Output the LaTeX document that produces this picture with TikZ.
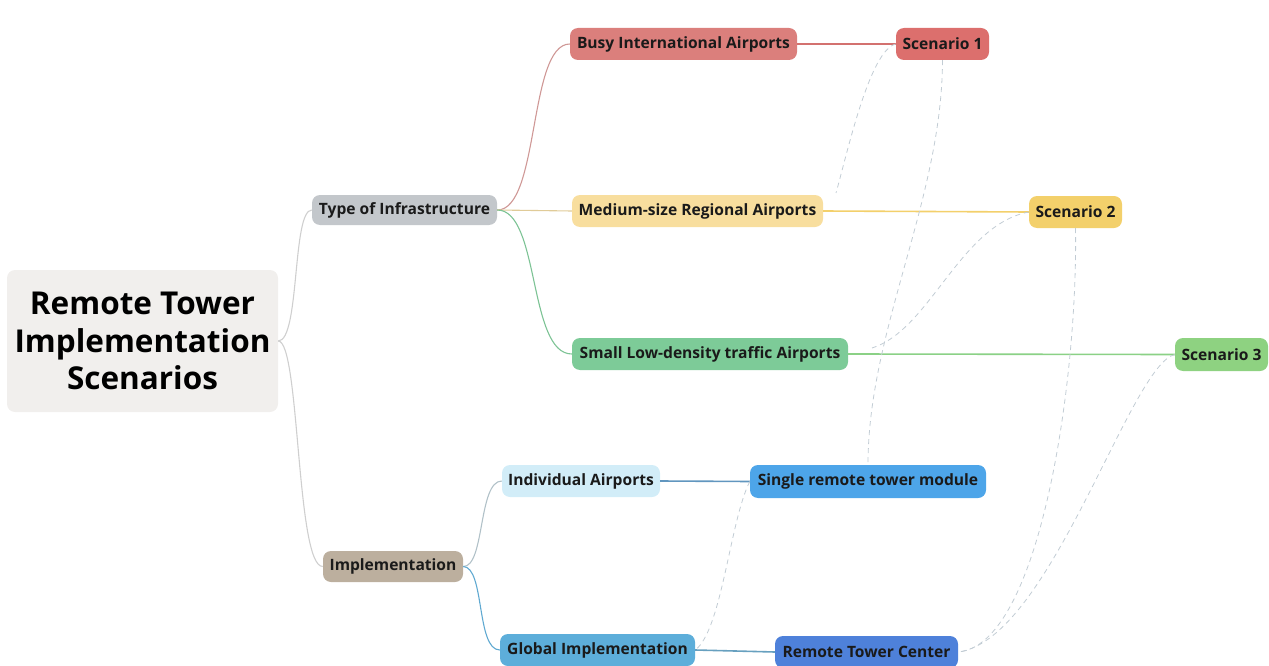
\documentclass[tikz,border=0pt]{standalone}
\usepackage{fontspec}
\setmainfont{Open Sans}
\definecolor{rootfill}{HTML}{F1EFED}
\definecolor{toifill}{HTML}{C3C7CB}
\definecolor{implfill}{HTML}{BCAF9E}
\definecolor{busyfill}{HTML}{DB7F7C}
\definecolor{medfill}{HTML}{F8DE9E}
\definecolor{smallfill}{HTML}{7DCB98}
\definecolor{indivfill}{HTML}{D2EDF8}
\definecolor{globfill}{HTML}{5DAEDA}
\definecolor{sonefill}{HTML}{DC6F6D}
\definecolor{stwofill}{HTML}{F3D06B}
\definecolor{sthreefill}{HTML}{8ED281}
\definecolor{singlefill}{HTML}{4DA5E9}
\definecolor{rtcfill}{HTML}{4E81DA}
\definecolor{relcol}{HTML}{C2CCD4}
\definecolor{greyline}{HTML}{CFCFCF}
\definecolor{txt}{HTML}{1A1A1A}
\tikzset{
  box/.style={rounded corners=8pt, inner sep=0pt, font=\fontsize{15.6}{18}\selectfont\bfseries, text=txt},
  branch/.style={line width=1.1pt},
  rel/.style={relcol, line width=0.8pt, dash pattern=on 5pt off 4pt},
}
\begin{document}
\begin{tikzpicture}[x=1pt,y=-1pt]
\useasboundingbox (0,0) rectangle (1269,666);
% nodes
\node[box, fill=rootfill, minimum width=271pt, minimum height=142pt, align=center,
  font=\fontsize{31.5}{37.5}\selectfont\bfseries, text=black] (root) at (142.5,341) {Remote Tower\\Implementation\\Scenarios};
\node[box, fill=toifill, minimum width=185pt, minimum height=30pt] (toi) at (404.5,210) {Type of Infrastructure};
\node[box, fill=implfill, minimum width=140pt, minimum height=31pt] (impl) at (393,566.5) {Implementation};
\node[box, fill=busyfill, minimum width=227pt, minimum height=32pt] (busy) at (683.5,44) {Busy International Airports};
\node[box, fill=medfill, minimum width=251pt, minimum height=32pt] (med) at (697.5,211) {Medium-size Regional Airports};
\node[box, fill=smallfill, minimum width=276pt, minimum height=32pt] (small) at (710,354) {Small Low-density traffic Airports};
\node[box, fill=indivfill, minimum width=158pt, minimum height=32pt] (indiv) at (581,481) {Individual Airports};
\node[box, fill=globfill, minimum width=195pt, minimum height=32pt] (glob) at (597.5,650) {Global Implementation};
\node[box, fill=sonefill, minimum width=93pt, minimum height=32pt] (s1) at (942.5,44) {Scenario 1};
\node[box, fill=stwofill, minimum width=93pt, minimum height=32pt] (s2) at (1075.5,212) {Scenario 2};
\node[box, fill=sthreefill, minimum width=93pt, minimum height=33pt] (s3) at (1221.5,354.5) {Scenario 3};
\node[box, fill=singlefill, minimum width=236pt, minimum height=33pt] (single) at (868,481.5) {Single remote tower module};
\node[box, fill=rtcfill, minimum width=183pt, minimum height=32pt] (rtc) at (866.5,652) {Remote Tower Center};
% free ends of relationships
\coordinate (medend) at (836,193);
\coordinate (smallend) at (872,348);
% tree branches
\draw[branch, greyline] (root.east) .. controls (300,341) and (292,210) .. (toi.west);
\draw[branch, greyline] (root.east) .. controls (300,341) and (296,567) .. (impl.west);
\draw[branch, busyfill!85!black!70!white] (toi.east) .. controls (540,210) and (528,44) .. (busy.west);
\draw[branch, medfill!80!gray] (toi.east) -- (med.west);
\draw[branch, smallfill!90!gray] (toi.east) .. controls (540,210) and (528,354) .. (small.west);
\draw[branch, indivfill!60!gray] (impl.east) .. controls (485,567) and (478,481) .. (indiv.west);
\draw[branch, globfill!90!gray] (impl.east) .. controls (485,567) and (476,650) .. (glob.west);
% links to scenarios / modules
\draw[line width=1.6pt, sonefill!90!gray] (busy.east) -- (s1.west);
\draw[line width=1.6pt, stwofill] (med.east) -- (s2.west);
\draw[line width=1.6pt, sthreefill!80!smallfill] (small.east) -- (s3.west);
\draw[line width=1.6pt, singlefill!60!gray] (indiv.east) -- (single.west);
\draw[line width=1.6pt, globfill!70!gray] (glob.east) -- (rtc.west);
% relationships (dashed)
\draw[rel] (s1.west) .. controls (870,50) and (848,150) .. (medend);
\draw[rel] (s1.south) .. controls (942,200) and (868,330) .. (single.north);
\draw[rel] (s2.west) .. controls (960,225) and (930,330) .. (smallend);
\draw[rel] (s2.south) .. controls (1078,380) and (1040,645) .. (rtc.east);
\draw[rel] (s3.west) .. controls (1130,365) and (1050,640) .. (rtc.east);
\draw[rel] (single.west) .. controls (730,520) and (722,630) .. (glob.east);
\end{tikzpicture}
\end{document}
